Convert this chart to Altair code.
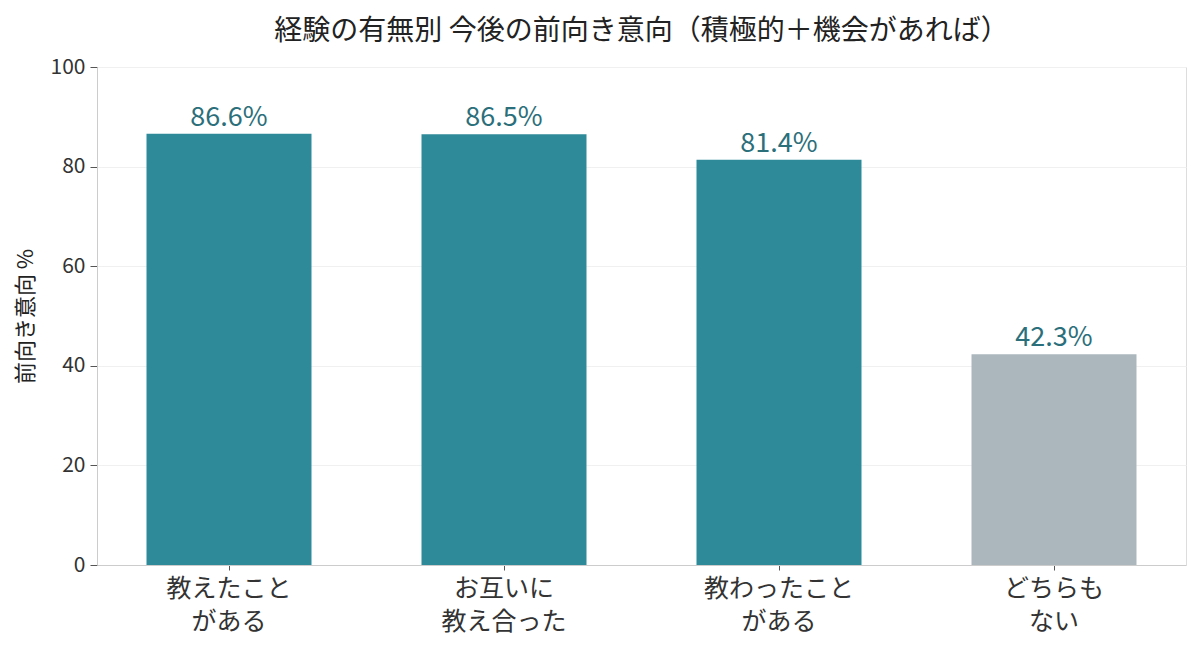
import altair as alt
import pandas as pd

categories = ["教えたこと|がある", "お互いに|教え合った", "教わったこと|がある", "どちらも|ない"]
values = [86.6, 86.5, 81.4, 42.3]
colors = ["#2E8A99", "#2E8A99", "#2E8A99", "#ABB7BD"]

df = pd.DataFrame({"cat": categories, "val": values, "color": colors})
df["label"] = df["val"].map(lambda v: f"{v:.1f}%")

FONT = "Noto Sans CJK JP"

base = alt.Chart(df).encode(
    x=alt.X("cat:N", sort=categories, title=None,
            scale=alt.Scale(paddingInner=0.4, paddingOuter=0.18),
            axis=alt.Axis(labelExpr="split(datum.value, '|')", labelAngle=0,
                          labelFontSize=25, labelColor="#333333", labelFont=FONT,
                          labelLineHeight=33, labelPadding=6,
                          domainColor="#cccccc", tickColor="#555555", tickSize=5,
                          grid=False)),
)

bars = base.mark_bar().encode(
    y=alt.Y("val:Q", title="前向き意向 %", scale=alt.Scale(domain=[0, 100]),
            axis=alt.Axis(values=[0, 20, 40, 60, 80, 100], labelFontSize=21,
                          labelColor="#333333", labelFont=FONT, titleFont=FONT,
                          titleFontSize=22, titleFontWeight="normal", titleColor="#222222",
                          titlePadding=13, domainColor="#cccccc", tickColor="#555555",
                          tickSize=7, labelPadding=5, gridColor="#f0f0f0")),
    color=alt.Color("color:N", scale=None),
)

text = base.mark_text(dy=-16, fontSize=27, font=FONT, color="#2B6F7B").encode(
    y=alt.Y("val:Q"),
    text="label:N",
)

chart = (bars + text).properties(
    width=1089, height=498,
    title=alt.TitleParams("経験の有無別 今後の前向き意向（積極的＋機会があれば）",
                          font=FONT, fontSize=28, fontWeight="normal", color="#222222",
                          offset=10),
    autosize=alt.AutoSizeParams(type="none"),
    padding={"left": 89, "top": 59, "right": 5, "bottom": 80},
).configure_view(stroke=None).configure(background="white")

chart.save("out.html", embed_options={"renderer": "svg", "actions": False})
